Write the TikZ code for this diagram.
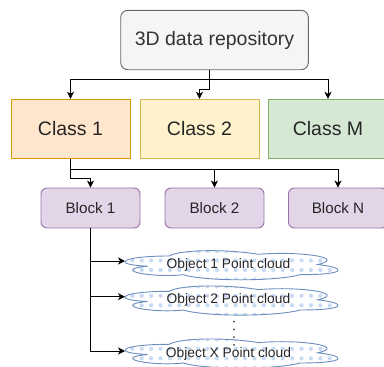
\documentclass[tikz,border=0pt]{standalone}
\usepackage{fontspec}
\setmainfont{Liberation Sans}
\usetikzlibrary{arrows.meta}
\definecolor{repofill}{HTML}{F5F5F5}
\definecolor{repodraw}{HTML}{666666}
\definecolor{repotext}{HTML}{333333}
\definecolor{orfill}{HTML}{FFE6CC}
\definecolor{ordraw}{HTML}{D79B00}
\definecolor{yefill}{HTML}{FFF2CC}
\definecolor{yedraw}{HTML}{D6B656}
\definecolor{grfill}{HTML}{D5E8D4}
\definecolor{grdraw}{HTML}{82B366}
\definecolor{pufill}{HTML}{E1D5E7}
\definecolor{pudraw}{HTML}{9673A6}
\definecolor{bldraw}{HTML}{6C8EBF}
\definecolor{bldot}{HTML}{C9DBF4}
\definecolor{txt}{HTML}{262626}
\newcommand\cloudpath[4]{(#1+0.25*#3,#2+0.25*#4) .. controls (#1+0.05*#3,#2+0.25*#4) and (#1,#2+0.5*#4) .. (#1+0.16*#3,#2+0.55*#4) .. controls (#1,#2+0.66*#4) and (#1+0.18*#3,#2+0.9*#4) .. (#1+0.31*#3,#2+0.8*#4) .. controls (#1+0.4*#3,#2+#4) and (#1+0.7*#3,#2+#4) .. (#1+0.8*#3,#2+0.8*#4) .. controls (#1+#3,#2+0.8*#4) and (#1+#3,#2+0.6*#4) .. (#1+0.875*#3,#2+0.5*#4) .. controls (#1+#3,#2+0.3*#4) and (#1+0.8*#3,#2+0.1*#4) .. (#1+0.625*#3,#2+0.2*#4) .. controls (#1+0.5*#3,#2+0.05*#4) and (#1+0.3*#3,#2+0.05*#4) .. (#1+0.25*#3,#2+0.25*#4) -- cycle}
\newcommand\dotcloud[4]{%
  \fill[white] \cloudpath{#1}{#2}{#3}{#4};
  \begin{scope}
    \clip \cloudpath{#1}{#2}{#3}{#4};
    \foreach \i in {0,...,25}{\foreach \j in {0,...,3}{%
      \fill[bldot] (#1+4+\i*9.4,#2+3.5+\j*9.5) circle[radius=2.1pt];}}
  \end{scope}
  \draw[bldraw,line width=0.9pt] \cloudpath{#1}{#2}{#3}{#4};
}
\begin{document}
\begin{tikzpicture}[x=1pt,y=-1pt,
  every node/.style={font=\fontsize{19.5}{23}\selectfont, text=txt, inner sep=0pt},
  repobox/.style={draw=repodraw, fill=repofill, text=repotext, rounded corners=7pt, minimum width=187.6pt, minimum height=59.4pt, line width=0.9pt},
  classbox/.style={minimum width=119pt, minimum height=59.5pt, line width=0.9pt},
  blockbox/.style={draw=pudraw, fill=pufill, rounded corners=6pt, minimum width=99pt, minimum height=40pt, line width=0.9pt, font=\fontsize{15.2}{18}\selectfont},
  objtext/.style={font=\fontsize{13.8}{16}\selectfont},
  arr/.style={draw=black, line width=0.9pt, -{Stealth[length=7pt,width=7pt,inset=2pt]}},
  ellip/.style={draw=black!75, line width=2pt, line cap=round, dash pattern=on 0pt off 7.8pt}
]
\useasboundingbox (0,0) rectangle (384,367);

\node[repobox] (repo) at (214.5,40) {3D data repository};
\node[classbox, draw=ordraw, fill=orfill] (c1) at (70.5,129) {Class 1};
\node[classbox, draw=yedraw, fill=yefill] (c2) at (199.5,129) {Class 2};
\node[classbox, draw=grdraw, fill=grfill] (cM) at (328,129) {Class M};

\node[blockbox] (b1) at (90.5,208) {Block 1};
\node[blockbox] (b2) at (214.5,208) {Block 2};
\node[blockbox] (bN) at (338,208) {Block N};

\dotcloud{109.5}{247.5}{238}{34}
\dotcloud{109.5}{282.8}{238}{34}
\dotcloud{109.5}{335.8}{238}{34}

\node[objtext] (o1) at (228.5,265) {Object 1 Point cloud};
\node[objtext] (o2) at (228.5,300) {Object 2 Point cloud};
\node[objtext] (oX) at (228.5,354) {Object X Point cloud};

\coordinate (t1) at (125,261);
\coordinate (t2) at (125,296.7);
\coordinate (tX) at (125,351);
\coordinate (d1) at (234,321.5);
\coordinate (d2) at (234,345);

\draw[arr] ([xshift=-4.8pt]repo.south) -- ++(0,9) -| (c1.north);
\draw[arr] ([xshift=-4.8pt]repo.south) -- ++(0,9) -| (cM.north);
\draw[arr] ([xshift=-4.8pt]repo.south) -- ++(0,19.7) -| (c2.north);

\draw[arr] (c1.south) -- ++(0,19) -| (b1.north);
\draw[arr] (c1.south) -- ++(0,10) -| (b2.north);
\draw[arr] (c1.south) -- ++(0,10) -| (bN.north);

\draw[arr] (b1.south) |- (t1);
\draw[arr] (b1.south) |- (t2);
\draw[arr] (b1.south) |- (tX);

\draw[ellip] (d1) -- (d2);
\end{tikzpicture}
\end{document}
